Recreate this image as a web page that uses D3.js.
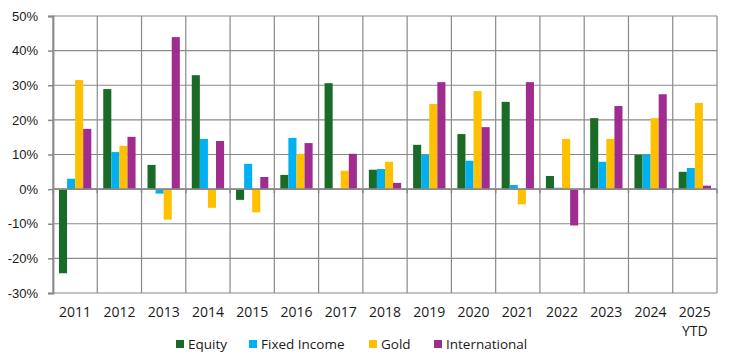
<!DOCTYPE html>
<html>
<head>
<meta charset="utf-8">
<script src="https://cdn.jsdelivr.net/npm/d3@7"></script>
<style>
  body { margin: 0; background: #fff; }
  svg { display: block; }
</style>
</head>
<body>
<div id="chart"></div>
<script>
// data (returns in %)
var years = ["2011", "2012", "2013", "2014", "2015", "2016", "2017", "2018", "2019", "2020", "2021", "2022", "2023", "2024", "2025 YTD"];
var seriesNames = ["Equity", "Fixed Income", "Gold", "International"];
var equity = [-24.3, 28.9, 7.0, 32.9, -3.1, 4.1, 30.6, 5.6, 12.8, 15.9, 25.2, 3.8, 20.5, 9.9, 5.0];
var fixedIncome = [3.0, 10.7, -1.3, 14.5, 7.3, 14.8, 0, 5.8, 9.9, 8.2, 1.2, 0.4, 7.9, 9.9, 6.1];
var gold = [31.5, 12.5, -8.8, -5.4, -6.7, 10.2, 5.3, 7.9, 24.6, 28.3, -4.4, 14.5, 14.5, 20.5, 24.9];
var international = [17.4, 15.1, 43.9, 13.9, 3.5, 13.3, 10.2, 1.8, 30.9, 17.9, 30.9, -10.5, 24.0, 27.4, 1.0];
var yTicks = [-30, -20, -10, 0, 10, 20, 30, 40, 50];
var colors = ["#1a6b28", "#00b0f0", "#ffc000", "#a02c8f"];

var seriesValues = [equity, fixedIncome, gold, international];
var rows = years.map(function (y, i) {
    return { year: y, values: seriesValues.map(function (s) { return s[i]; }) };
});

var width = 738, height = 362;
var margin = { left: 53, right: 21, top: 16, bottom: 69 };

var svg = d3.select("#chart").append("svg")
    .attr("width", width)
    .attr("height", height);

var x0 = d3.scaleBand()
    .domain(years)
    .range([margin.left, width - margin.right])
    .paddingInner(0.27)
    .paddingOuter(0.135);

var x1 = d3.scaleBand()
    .domain(d3.range(seriesNames.length))
    .range([0, x0.bandwidth()]);

var y = d3.scaleLinear()
    .domain([-30, 50])
    .range([height - margin.bottom, margin.top]);

var step = x0.step();
var gridColor = "#8a8a8a";

// horizontal gridlines
svg.append("g").selectAll("line")
    .data(yTicks)
    .enter().append("line")
    .attr("x1", margin.left)
    .attr("x2", width - margin.right)
    .attr("y1", function (d) { return y(d); })
    .attr("y2", function (d) { return y(d); })
    .attr("stroke", gridColor)
    .attr("stroke-width", 1.2);

// vertical gridlines between categories
svg.append("g").selectAll("line")
    .data(d3.range(years.length + 1))
    .enter().append("line")
    .attr("x1", function (i) { return margin.left + i * step; })
    .attr("x2", function (i) { return margin.left + i * step; })
    .attr("y1", y(50))
    .attr("y2", y(-30))
    .attr("stroke", gridColor)
    .attr("stroke-width", 1.2);

// bars
var group = svg.append("g").selectAll("g")
    .data(rows)
    .enter().append("g")
    .attr("transform", function (d) { return "translate(" + x0(d.year) + ",0)"; });

group.selectAll("rect")
    .data(function (d) { return d.values; })
    .enter().append("rect")
    .attr("x", function (d, i) { return x1(i); })
    .attr("width", x1.bandwidth())
    .attr("y", function (d) { return y(Math.max(0, d)); })
    .attr("height", function (d) { return Math.abs(y(d) - y(0)); })
    .attr("fill", function (d, i) { return colors[i]; });

// zero line and left axis
svg.append("line")
    .attr("x1", margin.left)
    .attr("x2", width - margin.right)
    .attr("y1", y(0))
    .attr("y2", y(0))
    .attr("stroke", gridColor)
    .attr("stroke-width", 1.8);

svg.append("g").selectAll("line")
    .data(d3.range(years.length + 1))
    .enter().append("line")
    .attr("x1", function (i) { return margin.left + i * step; })
    .attr("x2", function (i) { return margin.left + i * step; })
    .attr("y1", y(0))
    .attr("y2", y(0) + 4)
    .attr("stroke", gridColor)
    .attr("stroke-width", 1.5);

var yAxis = svg.append("g")
    .attr("transform", "translate(" + margin.left + ",0)")
    .call(d3.axisLeft(y).tickValues(yTicks).tickSize(5).tickPadding(10)
        .tickFormat(function (d) { return d + "%"; }));
yAxis.select(".domain").attr("stroke", gridColor).attr("stroke-width", 1.8);
yAxis.selectAll(".tick line").attr("stroke", gridColor).attr("stroke-width", 1.5);
yAxis.selectAll("text")
    .attr("fill", "#1a1a1a")
    .style("font-family", "'Liberation Sans', Arial, sans-serif")
    .style("font-size", "13px");

// category labels
var xLabels = svg.append("g").selectAll("text")
    .data(years)
    .enter().append("text")
    .attr("x", function (d) { return x0(d) + x0.bandwidth() / 2; })
    .attr("y", 317)
    .attr("text-anchor", "middle")
    .attr("fill", "#1a1a1a")
    .style("font-family", "'Open Sans', sans-serif")
    .style("font-size", "14px");

xLabels.each(function (d) {
    var parts = d.split(" ");
    var t = d3.select(this);
    parts.forEach(function (p, i) {
        t.append("tspan")
            .attr("x", x0(d) + x0.bandwidth() / 2)
            .attr("dy", i === 0 ? 0 : 19)
            .text(p);
    });
});

// legend
var legendX = [176, 249, 369, 434];
var legend = svg.append("g").selectAll("g")
    .data(seriesNames)
    .enter().append("g")
    .attr("transform", function (d, i) { return "translate(" + legendX[i] + ",340)"; });

legend.append("rect")
    .attr("width", 8)
    .attr("height", 8)
    .attr("fill", function (d, i) { return colors[i]; });

legend.append("text")
    .attr("x", 12)
    .attr("y", 8.5)
    .attr("fill", "#1a1a1a")
    .style("font-family", "'Open Sans', sans-serif")
    .style("font-size", "13.5px")
    .text(function (d) { return d; });
</script>
</body>
</html>
